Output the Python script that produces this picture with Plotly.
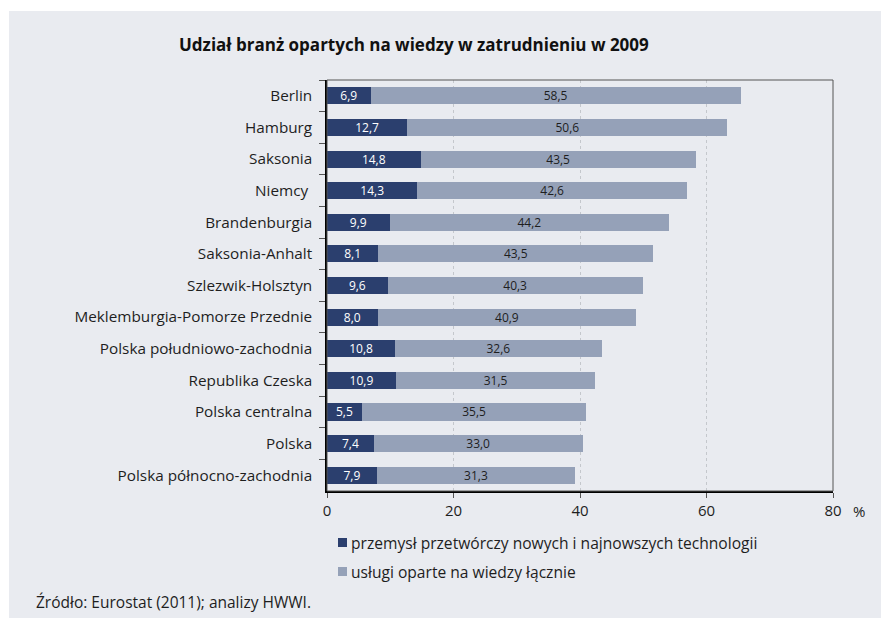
import plotly.graph_objects as go

categories = ["Berlin", "Hamburg", "Saksonia", "Niemcy ", "Brandenburgia", "Saksonia-Anhalt",
              "Szlezwik-Holsztyn", "Meklemburgia-Pomorze Przednie", "Polska południowo-zachodnia",
              "Republika Czeska", "Polska centralna", "Polska", "Polska północno-zachodnia"]
industry = [6.9, 12.7, 14.8, 14.3, 9.9, 8.1, 9.6, 8.0, 10.8, 10.9, 5.5, 7.4, 7.9]
services = [58.5, 50.6, 43.5, 42.6, 44.2, 43.5, 40.3, 40.9, 32.6, 31.5, 35.5, 33.0, 31.3]
series_names = ["przemysł przetwórczy nowych i najnowszych technologii",
                "usługi oparte na wiedzy łącznie"]
x_ticks = [0, 20, 40, 60, 80]

W, H = 881, 618
L, R, T, B = 327, 833, 80, 491
FONT = "Open Sans"

def px(x):
    return (x - L) / (R - L)

def py(y):
    return (B - y) / (B - T)

DARK = "#2b3f6e"
LIGHT = "#95a1b8"
COLORS = [DARK, LIGHT]
BG = "#e9ebf0"
TXT = "#1e1e1e"

fig = go.Figure()
fig.add_trace(go.Bar(
    y=categories, x=industry, orientation="h", name=series_names[0],
    marker=dict(color=DARK, line=dict(width=0)),
    texttemplate="%{x:.1f}", textposition="inside", insidetextanchor="middle",
    textangle=0, constraintext="none", textfont=dict(color="white", size=12, family=FONT),
))
fig.add_trace(go.Bar(
    y=categories, x=services, orientation="h", name=series_names[1],
    marker=dict(color=LIGHT, line=dict(width=0)),
    texttemplate="%{x:.1f}", textposition="inside", insidetextanchor="middle",
    textangle=0, constraintext="none", textfont=dict(color=TXT, size=12, family=FONT),
))

shapes = [
    dict(type="rect", xref="paper", yref="paper", x0=px(9), x1=px(W + 5), y0=py(H + 5), y1=py(11),
         fillcolor=BG, line=dict(width=0), layer="below"),
    dict(type="rect", xref="paper", yref="paper", x0=0, x1=1, y0=0, y1=1,
         fillcolor="rgba(0,0,0,0)", line=dict(color="#555555", width=1), layer="above"),
]

annotations = [
    dict(text="<b>Udział branż opartych na wiedzy w zatrudnieniu w 2009</b>", xref="paper", yref="paper",
         x=px(177), y=py(44), xanchor="left", yanchor="middle", showarrow=False,
         font=dict(size=17, color="#111111", family=FONT)),
    dict(text="%", xref="paper", yref="paper", x=px(859), y=py(511), xanchor="center", yanchor="middle",
         showarrow=False, font=dict(size=15, color=TXT, family=FONT)),
    dict(text="Źródło: Eurostat (2011); analizy HWWI.", xref="paper", yref="paper",
         x=px(34), y=py(602), xanchor="left", yanchor="middle", showarrow=False,
         font=dict(size=15.5, color=TXT, family=FONT)),
]

# legend drawn as squares + text
leg_rows = [542.5, 571.5]
for name, color, yc in zip(series_names, COLORS, leg_rows):
    shapes.append(dict(type="rect", xref="paper", yref="paper",
                       x0=px(338), x1=px(347), y0=py(yc + 4.5), y1=py(yc - 4.5),
                       fillcolor=color, line=dict(width=0), layer="above"))
    annotations.append(dict(text=name, xref="paper", yref="paper", x=px(349), y=py(yc),
                            xanchor="left", yanchor="middle", showarrow=False,
                            font=dict(size=15.6, color=TXT, family=FONT)))

fig.update_layout(
    width=W, height=H,
    margin=dict(l=L, r=W - R, t=T, b=H - B, pad=0, autoexpand=False),
    paper_bgcolor="white", plot_bgcolor=BG,
    barmode="stack", bargap=0.46,
    separators=", ",
    uniformtext=dict(minsize=12, mode="show"),
    font=dict(family=FONT, size=15, color=TXT),
    shapes=shapes, annotations=annotations,
    showlegend=False,
    xaxis=dict(range=[0, 80], tickvals=x_ticks, showgrid=True, gridcolor="#c4c7cc", griddash="dot",
               gridwidth=1, zeroline=False, showline=True, linecolor="black", linewidth=1.5,
               ticks="outside", ticklen=5, tickcolor="#555555", tickfont=dict(size=15), fixedrange=True),
    yaxis=dict(autorange="reversed", showline=True, linecolor="black", linewidth=1.5,
               ticks="outside", ticklen=6, tickcolor="#555555", tickson="boundaries",
               tickfont=dict(size=15.3), showgrid=False, ticklabelstandoff=10),
)

fig.write_html("out.html", config={"displayModeBar": False},
               post_script="document.body.style.margin='0';document.body.style.padding='0';")
